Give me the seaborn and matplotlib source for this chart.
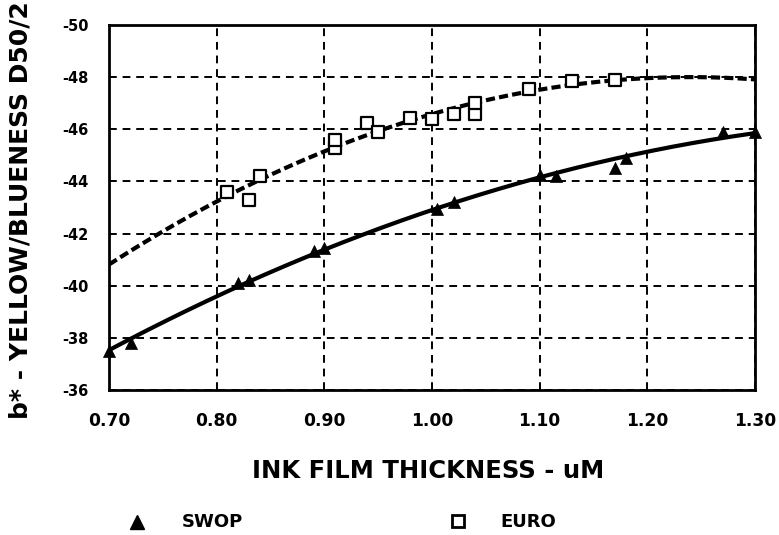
import numpy as np
import pandas as pd
import matplotlib
matplotlib.use("Agg")
import matplotlib.pyplot as plt
from matplotlib.lines import Line2D
import seaborn as sns

# Data
swop_x = [0.70, 0.72, 0.82, 0.83, 0.89, 0.90, 1.005, 1.02, 1.10, 1.115, 1.17, 1.18, 1.27, 1.30]
swop_y = [-37.5, -37.8, -40.1, -40.2, -41.35, -41.45, -42.95, -43.2, -44.25, -44.2, -44.5, -44.9, -45.9, -45.9]
euro_x = [0.81, 0.83, 0.84, 0.91, 0.91, 0.94, 0.95, 0.98, 1.00, 1.02, 1.04, 1.04, 1.09, 1.13, 1.17]
euro_y = [-43.6, -43.3, -44.2, -45.3, -45.6, -46.25, -45.9, -46.45, -46.4, -46.6, -46.6, -47.0, -47.55, -47.85, -47.9]
x_ticks = [0.70, 0.80, 0.90, 1.00, 1.10, 1.20, 1.30]
y_ticks = [-50, -48, -46, -44, -42, -40, -38, -36]
series_names = ["SWOP", "EURO"]

sns.set_theme(style="white")
plt.rcParams['font.family'] = ['DejaVu Sans']
plt.rcParams['text.color'] = 'black'

W, H = 779, 535
fig = plt.figure(figsize=(W / 100, H / 100), dpi=100)
ax = fig.add_axes([109 / W, 1 - 390 / H, (755 - 109) / W, (390 - 25) / H])

df_s = pd.DataFrame({"x": swop_x, "y": swop_y})
df_e = pd.DataFrame({"x": euro_x, "y": euro_y})

# Quadratic trend lines fitted to each series (as in the original chart)
xfit = np.linspace(0.70, 1.30, 200)
fit_s = pd.DataFrame({"x": xfit, "y": np.polyval(np.polyfit(swop_x, swop_y, 2), xfit)})
fit_e = pd.DataFrame({"x": xfit, "y": np.polyval(np.polyfit(euro_x, euro_y, 2), xfit)})

sns.lineplot(data=fit_s, x="x", y="y", color="black", lw=3.0, ax=ax, zorder=3)
sns.lineplot(data=fit_e, x="x", y="y", color="black", lw=3.0, ax=ax, zorder=3,
             linestyle=(0, (2.2, 1.0)))
sns.scatterplot(data=df_s, x="x", y="y", marker="^", s=75, color="black",
                edgecolor="black", linewidth=0.5, ax=ax, zorder=5, clip_on=False)
sns.scatterplot(data=df_e, x="x", y="y", marker="s", s=70, facecolor="white",
                edgecolor="black", linewidth=1.6, ax=ax, zorder=5)

ax.set_xlim(0.70, 1.30)
ax.set_ylim(-36, -50)
ax.set_xticks(x_ticks)
ax.set_xticklabels([f"{v:.2f}" for v in x_ticks], fontsize=12.3, fontweight="bold")
ax.set_yticks(y_ticks)
ax.set_yticklabels([str(v) for v in y_ticks], fontsize=10.5, fontweight="bold")
ax.tick_params(axis="both", length=0, colors="black")
ax.tick_params(axis="x", pad=15.5)
ax.tick_params(axis="y", pad=14.5)
ax.grid(True, color="black", linestyle=(0, (4, 3)), linewidth=1.4)
for s in ax.spines.values():
    s.set_color("black")
    s.set_linewidth(2.0)
ax.set_xlabel("")
ax.set_ylabel("")

fig.text(428 / W, 1 - 471 / H, "INK FILM THICKNESS - uM", ha="center", va="center",
         fontsize=17.5, fontweight="bold")
fig.text(21 / W, 1 - 419 / H, "b* - YELLOW/BLUENESS D50/2", ha="center", va="bottom",
         rotation=90, fontsize=18, fontweight="bold")

# Legend
fig.lines.append(Line2D([137 / W], [1 - 522 / H], transform=fig.transFigure,
                        marker="^", markersize=10, color="black", linestyle="none"))
fig.lines.append(Line2D([458 / W], [1 - 521 / H], transform=fig.transFigure,
                        marker="s", markersize=8.5, markerfacecolor="white",
                        markeredgecolor="black", markeredgewidth=2.0, linestyle="none"))
fig.text(182 / W, 1 - 522 / H, series_names[0], ha="left", va="center", fontsize=13, fontweight="bold")
fig.text(500 / W, 1 - 522 / H, series_names[1], ha="left", va="center", fontsize=13, fontweight="bold")

fig.savefig("out.png", dpi=100)
